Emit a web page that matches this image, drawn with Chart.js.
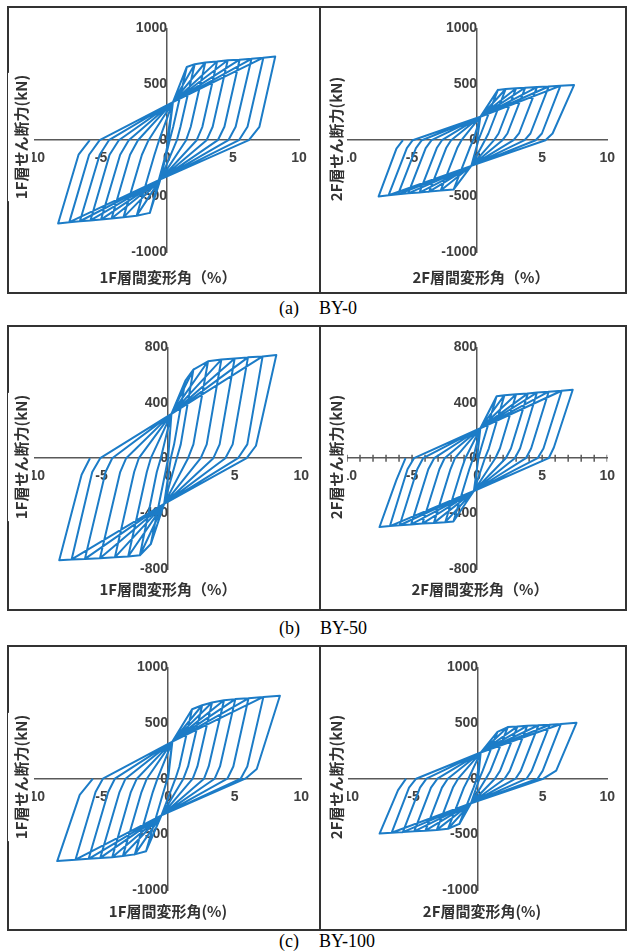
<!DOCTYPE html>
<html>
<head>
<meta charset="utf-8">
<script src="https://cdn.jsdelivr.net/npm/chart.js@4.4.1/dist/chart.umd.min.js"></script>
<style>
    body { margin: 0; background: #fff; }
    #page { position: relative; width: 628px; height: 952px; overflow: hidden; background: #fff; }
    .frame { position: absolute; border: 2px solid #333; box-sizing: border-box; }
    .divider { position: absolute; width: 2px; background: #333; }
    canvas { position: absolute; }
    svg.ytitle { position: absolute; z-index: 2; overflow: visible; }
    svg.ytitle text { font: bold 15px 'Noto Sans CJK JP'; fill: #333; }
    .xtitle {
        position: absolute; transform: translate(-50%, -50%); white-space: nowrap;
        font: bold 15px 'Noto Sans CJK JP'; color: #333;
    }
    .caption {
        position: absolute; transform: translateY(-50%); white-space: nowrap;
        font: 18px 'Liberation Serif'; color: #000;
    }
</style>
</head>
<body>
<div id="page"></div>
<script>
// tick labels
const xTicks = [-10, -5, 0, 5, 10];
const yTicks1000 = [-1000, -500, 0, 500, 1000];
const yTicks800 = [-800, -400, 0, 400, 800];
const by50_2F_xMarks = [-10, -9, -8, -7, -6, -5, -4, -3, -2, -1, 0, 1, 2, 3, 4, 5, 6, 7, 8, 9, 10];

// each cycle: peak drift (%), peak shear (kN), knee drift, knee shear, drift at zero shear
// pinch: [x+, kN+, x-, kN-] where the reloading lines meet before the steep rise

// (a) BY-0, 1F
const by0_1F_pinch = [0.45, 340, -0.5, -350];
const by0_1F_pos = [
    [1.5, 655, 0.47, 120, 0.2],
    [2.1, 680, 1.02, 120, 0.75],
    [2.9, 695, 1.8, 120, 1.45],
    [3.8, 705, 2.68, 120, 2.25],
    [4.6, 715, 3.46, 120, 3.0],
    [5.5, 720, 4.35, 120, 3.85],
    [6.4, 728, 5.2, 120, 4.65],
    [7.3, 738, 6.1, 120, 5.45],
    [8.2, 748, 7.0, 120, 6.2]
];
const by0_1F_neg = [
    [-1.3, -650, -0.1, -130, 0.1],
    [-2.3, -675, -0.95, -130, -0.6],
    [-3.3, -690, -1.9, -130, -1.4],
    [-4.2, -700, -2.8, -130, -2.2],
    [-5.0, -710, -3.55, -130, -2.9],
    [-5.8, -718, -4.35, -130, -3.65],
    [-6.6, -725, -5.1, -130, -4.4],
    [-7.4, -733, -5.9, -130, -5.1],
    [-8.25, -745, -6.7, -130, -5.85]
];

// (a) BY-0, 2F
const by0_2F_pinch = [0.25, 210, -0.45, -230];
const by0_2F_pos = [
    [1.6, 450, 0.3, 60, 0.1],
    [2.2, 458, 0.87, 60, 0.6],
    [3.0, 465, 1.65, 60, 1.3],
    [3.7, 470, 2.33, 60, 1.95],
    [4.6, 475, 3.22, 60, 2.8],
    [5.5, 480, 4.1, 60, 3.65],
    [6.4, 486, 4.98, 60, 4.5],
    [7.45, 493, 5.8, 60, 5.25]
];
const by0_2F_neg = [
    [-1.8, -440, -0.57, -70, -0.3],
    [-2.8, -450, -1.53, -70, -1.2],
    [-3.68, -460, -2.38, -70, -2.0],
    [-4.43, -468, -3.1, -70, -2.7],
    [-5.3, -475, -3.95, -70, -3.5],
    [-6.07, -483, -4.7, -70, -4.25],
    [-6.8, -492, -5.4, -70, -4.95],
    [-7.57, -503, -6.2, -75, -5.7]
];

// (b) BY-50, 1F
const by50_1F_pinch = [0.25, 320, -0.3, -330];
const by50_1F_pos = [
    [1.3, 560, 0.45, 100, 0.2],
    [1.9, 640, 0.95, 100, 0.65],
    [3.0, 700, 1.9, 100, 1.5],
    [4.0, 712, 2.9, 100, 2.45],
    [5.0, 720, 3.87, 100, 3.4],
    [6.0, 728, 4.85, 100, 4.3],
    [7.1, 735, 5.95, 100, 5.25],
    [8.13, 745, 6.6, 90, 5.9]
];
const by50_1F_neg = [
    [-1.3, -620, -0.2, -100, 0.0],
    [-2.12, -701, -0.85, -100, -0.55],
    [-3.0, -710, -1.6, -100, -1.3],
    [-4.0, -716, -2.55, -100, -2.2],
    [-5.12, -722, -3.6, -100, -3.15],
    [-6.25, -727, -4.7, -100, -4.2],
    [-7.25, -731, -5.7, -100, -5.1],
    [-8.18, -736, -6.5, -120, -5.87]
];

// (b) BY-50, 2F
const by50_2F_pinch = [0.25, 216, -0.25, -237];
const by50_2F_pos = [
    [1.5, 447, 0.3, 70, 0.1],
    [2.1, 455, 0.9, 70, 0.6],
    [3.0, 462, 1.75, 70, 1.4],
    [3.9, 468, 2.6, 70, 2.2],
    [4.6, 474, 3.3, 70, 2.9],
    [5.5, 480, 4.15, 70, 3.75],
    [6.5, 487, 5.1, 70, 4.65],
    [7.35, 494, 5.9, 77, 5.5]
];
const by50_2F_neg = [
    [-1.82, -457, -0.6, -80, -0.3],
    [-2.45, -462, -1.2, -80, -0.9],
    [-3.32, -467, -2.05, -80, -1.7],
    [-4.2, -472, -2.9, -80, -2.5],
    [-5.07, -478, -3.75, -80, -3.3],
    [-5.95, -484, -4.6, -80, -4.15],
    [-6.7, -490, -5.35, -80, -4.85],
    [-7.5, -497, -6.2, -156, -5.5]
];

// (c) BY-100, 1F
const by100_1F_pinch = [0.32, 333, -0.5, -330];
const by100_1F_pos = [
    [1.8, 624, 0.85, 110, 0.55],
    [2.56, 660, 1.5, 110, 1.15],
    [3.3, 685, 2.2, 110, 1.85],
    [4.2, 705, 3.05, 110, 2.7],
    [5.05, 715, 3.9, 110, 3.5],
    [6.04, 722, 4.9, 110, 4.45],
    [7.16, 735, 5.95, 110, 5.45],
    [8.4, 745, 6.66, 87, 5.8]
];
const by100_1F_neg = [
    [-1.66, -652, -0.35, -120, -0.05],
    [-2.5, -680, -1.15, -120, -0.8],
    [-3.4, -695, -2.0, -120, -1.6],
    [-4.2, -705, -2.8, -120, -2.35],
    [-5.1, -712, -3.65, -120, -3.2],
    [-5.97, -720, -4.5, -120, -4.0],
    [-6.96, -728, -5.45, -120, -4.9],
    [-8.33, -740, -6.64, -145, -5.65]
];

// (c) BY-100, 2F
const by100_2F_pinch = [0.2, 235, -0.55, -220];
const by100_2F_pos = [
    [1.5, 420, 0.35, 70, 0.1],
    [2.3, 464, 0.95, 70, 0.6],
    [3.05, 470, 1.7, 70, 1.3],
    [3.8, 475, 2.45, 70, 2.05],
    [4.67, 480, 3.3, 70, 2.9],
    [5.55, 485, 4.15, 70, 3.75],
    [6.42, 492, 5.0, 70, 4.6],
    [7.62, 502, 6.05, 72, 5.05]
];
const by100_2F_neg = [
    [-1.45, -406, -0.35, -80, -0.1],
    [-2.33, -450, -1.1, -80, -0.75],
    [-3.2, -460, -1.95, -80, -1.55],
    [-4.08, -467, -2.8, -80, -2.35],
    [-4.95, -473, -3.65, -80, -3.15],
    [-5.83, -480, -4.5, -80, -4.0],
    [-6.7, -486, -5.35, -80, -4.8],
    [-7.63, -493, -6.2, -102, -5.58]
];

const LINE = '#1c7cc7';
const AXIS = '#595959';
const TICK_FONT = { family: 'Liberation Sans', size: 14, weight: 'bold' };

// canvas rect and chart area in page pixels: [x, y, w, h] and [left, top, right, bottom]
const panels = [
    { pos: by0_1F_pos, neg: by0_1F_neg, pinch: by0_1F_pinch, yTicks: yTicks1000,
      xTitle: '1F層間変形角（%）', yTitle: '1F層せん断力(kN)',
      canvas: [9, 8, 310, 284], area: [35, 22, 299, 252], yt: [20, 137], xt: [168, 276] },
    { pos: by0_2F_pos, neg: by0_2F_neg, pinch: by0_2F_pinch, yTicks: yTicks1000,
      xTitle: '2F層間変形角（%）', yTitle: '2F層せん断力(kN)',
      canvas: [321, 8, 304, 284], area: [347, 22, 613, 252], yt: [335, 139], xt: [481, 276] },
    { pos: by50_1F_pos, neg: by50_1F_neg, pinch: by50_1F_pinch, yTicks: yTicks800,
      xTitle: '1F層間変形角（%）', yTitle: '1F層せん断力(kN)',
      canvas: [9, 327, 310, 282], area: [35, 338, 302, 569], yt: [20, 457], xt: [168, 588] },
    { pos: by50_2F_pos, neg: by50_2F_neg, pinch: by50_2F_pinch, yTicks: yTicks800,
      xTitle: '2F層間変形角（%）', yTitle: '2F層せん断力(kN)', marks: by50_2F_xMarks,
      canvas: [321, 327, 304, 282], area: [347, 338, 612, 569], yt: [335, 457], xt: [480, 588] },
    { pos: by100_1F_pos, neg: by100_1F_neg, pinch: by100_1F_pinch, yTicks: yTicks1000,
      xTitle: '1F層間変形角(%)', yTitle: '1F層せん断力(kN)',
      canvas: [9, 647, 310, 282], area: [35, 660, 303, 890], yt: [20, 777], xt: [168, 910] },
    { pos: by100_2F_pos, neg: by100_2F_neg, pinch: by100_2F_pinch, yTicks: yTicks1000,
      xTitle: '2F層間変形角(%)', yTitle: '2F層せん断力(kN)',
      canvas: [321, 647, 304, 282], area: [349, 660, 616, 890], yt: [335, 777], xt: [482, 910] }
];

const frames = [[7, 6, 620, 288], [7, 325, 620, 286], [7, 645, 620, 286]];
const captions = [['(a)', 'BY-0', 308], ['(b)', 'BY-50', 628], ['(c)', 'BY-100', 941]];

const page = document.getElementById('page');
const SVGNS = 'http://www.w3.org/2000/svg';

function el(tag, cls, css, text) {
    const e = document.createElement(tag);
    if (cls) e.className = cls;
    Object.assign(e.style, css);
    if (text !== undefined) e.textContent = text;
    page.appendChild(e);
    return e;
}

// vertical axis title as svg text, white box behind it (it hides the minus of -10 like the source)
function yTitle(cx, cy, text) {
    const w = 24, h = 150;
    const svg = document.createElementNS(SVGNS, 'svg');
    svg.setAttribute('class', 'ytitle');
    svg.setAttribute('width', w);
    svg.setAttribute('height', h);
    svg.style.left = (cx - w / 2) + 'px';
    svg.style.top = (cy - h / 2) + 'px';
    const t = document.createElementNS(SVGNS, 'text');
    t.setAttribute('x', 0);
    t.setAttribute('y', 0);
    t.setAttribute('text-anchor', 'middle');
    t.setAttribute('dominant-baseline', 'central');
    t.setAttribute('transform', `translate(${w / 2},${h / 2}) rotate(-90)`);
    t.textContent = text;
    svg.appendChild(t);
    page.appendChild(svg);
    const bb = t.getBBox();
    const r = document.createElementNS(SVGNS, 'rect');
    r.setAttribute('x', bb.x - 2);
    r.setAttribute('y', -w / 2);
    r.setAttribute('width', bb.width + 4);
    r.setAttribute('height', w);
    r.setAttribute('fill', '#fff');
    r.setAttribute('transform', `translate(${w / 2},${h / 2}) rotate(-90)`);
    svg.insertBefore(r, t);
}

frames.forEach(([x, y, w, h]) => {
    el('div', 'frame', { left: x + 'px', top: y + 'px', width: w + 'px', height: h + 'px' });
    el('div', 'divider', { left: '319px', top: y + 'px', height: h + 'px' });
});

captions.forEach(([tag, name, y]) => {
    const c = el('div', 'caption', { left: '279px', top: y + 'px' });
    const a = document.createElement('span');
    a.textContent = tag;
    const b = document.createElement('span');
    b.textContent = name;
    b.style.marginLeft = '20px';
    c.appendChild(a);
    c.appendChild(b);
});

// trace the loading history: pinch -> previous peak -> new peak -> unload -> other side
function buildLoop(pos, neg, pinch) {
    const pts = [{ x: 0, y: 0 }];
    for (let i = 0; i < pos.length; i++) {
        const p = pos[i], n = neg[i];
        pts.push({ x: pinch[0], y: pinch[1] });
        if (i > 0) pts.push({ x: pos[i - 1][0], y: pos[i - 1][1] });
        pts.push({ x: p[0], y: p[1] }, { x: p[2], y: p[3] }, { x: p[4], y: 0 });
        pts.push({ x: pinch[2], y: pinch[3] });
        if (i > 0) pts.push({ x: neg[i - 1][0], y: neg[i - 1][1] });
        pts.push({ x: n[0], y: n[1] }, { x: n[2], y: n[3] }, { x: n[4], y: 0 });
    }
    return pts;
}

function makeChart(p) {
    const [cx, cy, cw, ch] = p.canvas;
    const [al, at, ar, ab] = p.area;
    const canvas = document.createElement('canvas');
    canvas.width = cw;
    canvas.height = ch;
    canvas.style.left = cx + 'px';
    canvas.style.top = cy + 'px';
    page.appendChild(canvas);

    const datasets = [{
        data: buildLoop(p.pos, p.neg, p.pinch),
        showLine: true,
        borderColor: LINE,
        borderWidth: 2,
        borderJoinStyle: 'round',
        pointRadius: 0,
        tension: 0,
        fill: false,
    }];
    if (p.marks) {
        datasets.push({
            data: p.marks.map(v => ({ x: v, y: 0 })),
            showLine: false,
            pointStyle: 'line',
            rotation: 90,
            pointRadius: 3.5,
            borderColor: AXIS,
            borderWidth: 1.5,
        });
    }

    new Chart(canvas.getContext('2d'), {
        type: 'scatter',
        data: { datasets },
        options: {
            responsive: false,
            animation: false,
            events: [],
            layout: { padding: { left: al - cx, top: at - cy, right: cx + cw - ar, bottom: cy + ch - ab } },
            plugins: { legend: { display: false }, tooltip: { enabled: false } },
            scales: {
                x: {
                    type: 'linear', min: -10, max: 10, position: { y: 0 }, z: 1,
                    grid: { display: false, drawTicks: false },
                    border: { display: true, color: AXIS, width: 1.5 },
                    afterBuildTicks: s => { s.ticks = xTicks.map(v => ({ value: v })); },
                    ticks: { color: '#404040', font: TICK_FONT, padding: 10, maxRotation: 0, autoSkip: false,
                             callback: v => String(v) }
                },
                y: {
                    type: 'linear', min: p.yTicks[0], max: p.yTicks[p.yTicks.length - 1], position: { x: 0 }, z: 1,
                    grid: { display: false, drawTicks: false },
                    border: { display: true, color: AXIS, width: 1.5 },
                    afterBuildTicks: s => { s.ticks = p.yTicks.map(v => ({ value: v })); },
                    ticks: { color: '#404040', font: TICK_FONT, padding: 12, autoSkip: false,
                             callback: v => String(v) }
                }
            }
        }
    });

    yTitle(p.yt[0], p.yt[1], p.yTitle);
    el('div', 'xtitle', { left: p.xt[0] + 'px', top: p.xt[1] + 'px' }, p.xTitle);
}

panels.forEach(makeChart);
</script>
</body>
</html>
